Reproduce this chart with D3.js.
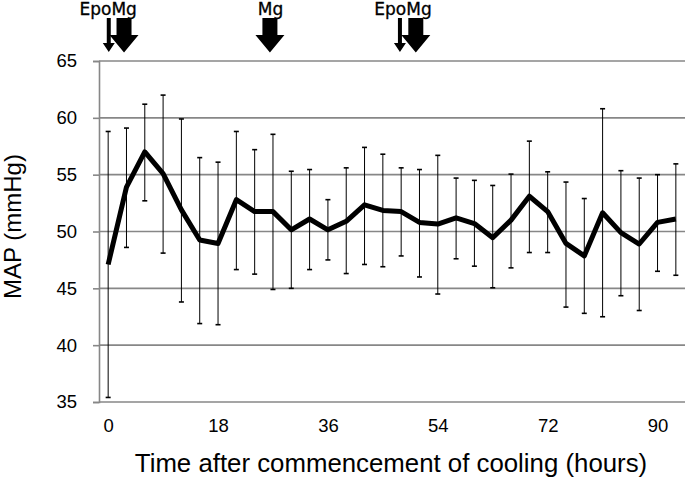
<!DOCTYPE html>
<html>
<head>
<meta charset="utf-8">
<script src="https://cdn.jsdelivr.net/npm/d3@7"></script>
<style>
  html, body { margin: 0; padding: 0; background: #fff; }
  svg { display: block; }
</style>
</head>
<body>
<svg id="chart" width="685" height="478"></svg>
<script>
// ---- data ----
const hours = d3.range(0, 94, 3); // 0..93 every 3 h
const mapMean = [47.1, 53.9, 57.0, 55.1, 51.9, 49.25, 48.95, 52.8, 51.75, 51.75,
                 50.15, 51.1, 50.15, 50.9, 52.35, 51.85, 51.75, 50.8, 50.65, 51.2,
                 50.7, 49.45, 51.0, 53.1, 51.75, 48.95, 47.85, 51.65, 49.9, 48.9,
                 50.8, 51.1];
const mapUpper = [58.8, 59.1, 61.2, 62.0, 59.9, 56.5, 56.1, 58.8, 57.2, 58.55,
                  55.3, 55.45, 52.8, 55.6, 57.4, 56.8, 55.6, 55.45, 56.7, 54.7,
                  54.5, 54.05, 55.05, 57.95, 55.25, 54.35, 52.9, 60.8, 55.35, 54.7,
                  55.0, 55.95];
const mapLower = [35.4, 48.6, 52.7, 48.1, 43.8, 41.9, 41.8, 46.65, 46.25, 44.9,
                  45.0, 46.65, 47.5, 46.3, 47.1, 46.9, 47.85, 46.0, 44.5, 47.6,
                  46.95, 45.05, 46.8, 48.15, 48.15, 43.35, 42.8, 42.5, 44.35, 43.05,
                  46.5, 46.15];
const xTickLabels = [0, 18, 36, 54, 72, 90];
const yTicks = [35, 40, 45, 50, 55, 60, 65];
// treatment annotations (hour of administration)
const arrowKinds = ["thin", "thick", "thick", "thin", "thick"];
const arrowHours = [0.1, 2.6, 26.5, 47.8, 50.4];
const annotLabels = ["EpoMg", "Mg", "EpoMg"];
const annotHours = [0, 26.6, 48.3];

// ---- layout ----
const svg = d3.select("#chart");
const plotL = 99, plotR = 685, plotT = 61, plotB = 402;

const x = d3.scalePoint().domain(hours).range([plotL, plotR]).padding(0.5);
const xh = d3.scaleLinear().domain([hours[0], hours[hours.length - 1]])
  .range([x(hours[0]), x(hours[hours.length - 1])]);
const y = d3.scaleLinear().domain([35, 65]).range([plotB, plotT]);

const gridColor = "#878787";

// gridlines
svg.append("g").selectAll("line").data(yTicks).join("line")
  .attr("x1", plotL).attr("x2", plotR + 5)
  .attr("y1", d => y(d)).attr("y2", d => y(d))
  .attr("stroke", gridColor).attr("stroke-width", 1.6);

// y axis
const yAxis = d3.axisLeft(y).tickValues(yTicks).tickSize(6).tickPadding(16);
const gy = svg.append("g").attr("transform", `translate(${plotL},0)`).call(yAxis);
gy.select(".domain").attr("stroke", gridColor).attr("stroke-width", 1.6);
gy.selectAll(".tick line").attr("stroke", gridColor).attr("stroke-width", 1.6);
gy.selectAll(".tick text").attr("font-family", "Liberation Sans, Arial, sans-serif")
  .attr("font-size", 18.5).attr("fill", "#000");

// x axis labels
const xAxis = d3.axisBottom(x).tickValues(xTickLabels).tickSize(0).tickPadding(17);
const gx = svg.append("g").attr("transform", `translate(0,${plotB})`).call(xAxis);
gx.select(".domain").remove();
gx.selectAll(".tick text").attr("font-family", "Liberation Sans, Arial, sans-serif")
  .attr("font-size", 18.5).attr("fill", "#000");

// error bars
const eb = svg.append("g");
hours.forEach((h, i) => {
  const cx = x(h);
  eb.append("line").attr("x1", cx).attr("x2", cx)
    .attr("y1", y(mapUpper[i])).attr("y2", y(mapLower[i]))
    .attr("stroke", "#000").attr("stroke-width", 1);
  [mapUpper[i], mapLower[i]].forEach(v => {
    eb.append("line").attr("x1", cx - 2.5).attr("x2", cx + 2.5)
      .attr("y1", y(v)).attr("y2", y(v))
      .attr("stroke", "#000").attr("stroke-width", 1.6);
  });
});

// mean line
const line = d3.line().x((d, i) => x(hours[i])).y(d => y(d));
svg.append("path").datum(mapMean).attr("d", line)
  .attr("fill", "none").attr("stroke", "#000").attr("stroke-width", 5)
  .attr("stroke-linejoin", "round");

// axis titles
svg.append("text")
  .attr("x", (plotL + plotR) / 2 - 1).attr("y", 472)
  .attr("text-anchor", "middle")
  .attr("font-family", "Liberation Sans, Arial, sans-serif")
  .attr("font-size", 25.8).attr("fill", "#000")
  .text("Time after commencement of cooling (hours)");

svg.append("text")
  .attr("transform", `translate(21,${(155 + 298) / 2}) rotate(-90)`)
  .attr("text-anchor", "middle")
  .attr("font-family", "Liberation Sans, Arial, sans-serif")
  .attr("font-size", 24).attr("fill", "#000")
  .text("MAP (mmHg)");

// arrows
const shapes = {
  thin:  { shaft: 4,  head: 12, top: 18, neck: 43, tip: 52 },
  thick: { shaft: 15, head: 29, top: 18, neck: 35, tip: 52.5 }
};
const ag = svg.append("g");
arrowHours.forEach((h, i) => {
  const s = shapes[arrowKinds[i]];
  const cx = xh(h);
  const pts = [
    [cx - s.shaft / 2, s.top], [cx + s.shaft / 2, s.top],
    [cx + s.shaft / 2, s.neck], [cx + s.head / 2, s.neck],
    [cx, s.tip],
    [cx - s.head / 2, s.neck], [cx - s.shaft / 2, s.neck]
  ];
  ag.append("polygon").attr("points", pts.map(p => p.join(",")).join(" "))
    .attr("fill", "#000");
});

annotLabels.forEach((t, i) => {
  svg.append("text")
    .attr("x", xh(annotHours[i])).attr("y", 14.5)
    .attr("text-anchor", "middle")
    .attr("font-family", "DejaVu Sans, sans-serif")
    .attr("font-size", 17).attr("fill", "#000")
    .attr("stroke", "#000").attr("stroke-width", 0.3)
    .text(t);
});
</script>
</body>
</html>
